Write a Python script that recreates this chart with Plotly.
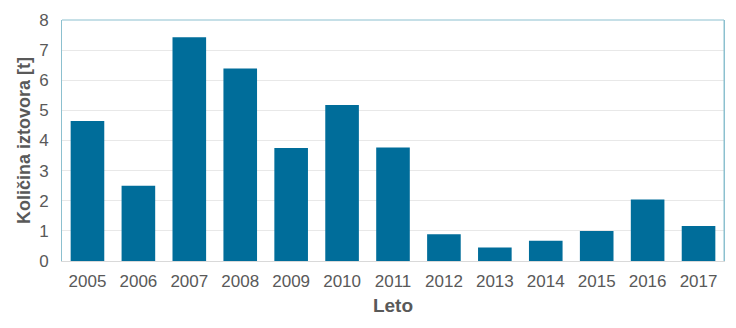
import plotly.graph_objects as go

# Annual landings by year
years = ["2005", "2006", "2007", "2008", "2009", "2010", "2011",
         "2012", "2013", "2014", "2015", "2016", "2017"]
landings_t = [4.65, 2.50, 7.43, 6.39, 3.75, 5.18, 3.77,
              0.89, 0.45, 0.67, 1.00, 2.04, 1.16]
y_ticks = [0, 1, 2, 3, 4, 5, 6, 7, 8]

text_color = "#595959"
bar_color = "#006d9a"
frame_color = "#8cc0cf"

fig = go.Figure(
    go.Bar(x=years, y=landings_t, marker=dict(color=bar_color, line=dict(width=0)))
)

fig.update_layout(
    width=736, height=328,
    margin=dict(l=62, r=11, t=15, b=67),
    paper_bgcolor="white", plot_bgcolor="white",
    bargap=0.34,
    showlegend=False,
    font=dict(family="Liberation Sans, Arial, sans-serif", color=text_color, size=17),
)

fig.update_xaxes(
    type="category",
    showgrid=False,
    showline=True, linecolor="#d9d9d9", linewidth=1,
    mirror=False,
    ticks="", tickfont=dict(size=17, color=text_color),
    ticklabelstandoff=5,
    title=dict(text="<b>Leto</b>", font=dict(size=19, color=text_color), standoff=8),
)

fig.update_yaxes(
    range=[0, 8], tickvals=y_ticks,
    showgrid=True, gridcolor="#e8e8e8", gridwidth=1,
    zeroline=False,
    showline=True, linecolor=frame_color, linewidth=1, mirror=True,
    ticks="", ticklen=0,
    tickfont=dict(size=17, color=text_color),
    ticklabelstandoff=9,
    title=dict(text="<b>Količina iztovora [t]</b>", font=dict(size=18, color=text_color), standoff=3),
)

# Top and right frame drawn in the light teal outline colour
fig.add_shape(type="line", xref="paper", yref="paper", x0=0, x1=1, y0=1, y1=1,
              line=dict(color=frame_color, width=1))
fig.add_shape(type="line", xref="paper", yref="paper", x0=1, x1=1, y0=0, y1=1,
              line=dict(color=frame_color, width=1))

fig.write_html("out.html")
